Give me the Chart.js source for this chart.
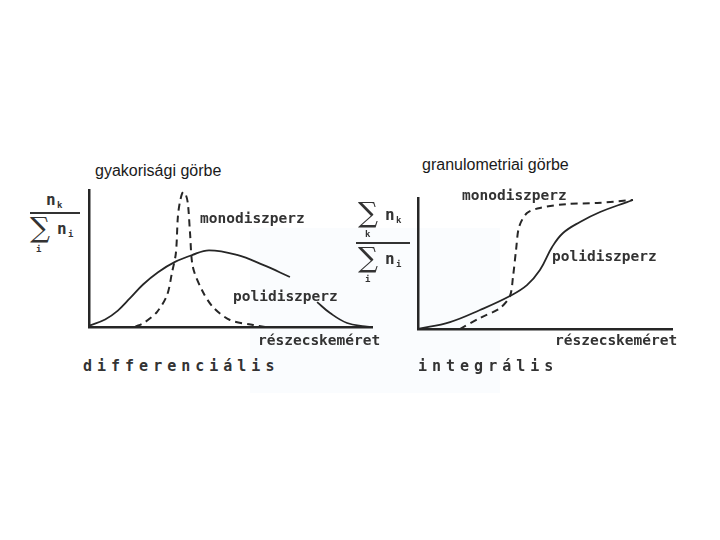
<!DOCTYPE html>
<html>
<head>
<meta charset="utf-8">
<script src="https://cdn.jsdelivr.net/npm/chart.js@4.4.1/dist/chart.umd.min.js"></script>
<style>
  body { margin: 0; background: #fff; }
  #page { position: relative; width: 720px; height: 540px; overflow: hidden; background: #fff; }
  canvas { position: absolute; }
  .t { position: absolute; white-space: nowrap; color: #2a2a2a; }
  .title { font-family: "Liberation Sans", Arial, sans-serif; font-size: 16px; color: #1a1a1a; }
  .lbl { font-family: "DejaVu Sans Mono", monospace; font-size: 14.5px; font-weight: bold; color: #333; }
  .big { font-family: "DejaVu Sans Mono", monospace; font-size: 15px; font-weight: bold; color: #333; letter-spacing: 5px; }
  .sig { font-family: "DejaVu Serif", serif; font-size: 28px; color: #333; line-height: 1; }
  .n { font-family: "DejaVu Sans Mono", monospace; font-size: 16px; font-weight: bold; color: #333; }
  .sub { font-family: "DejaVu Sans Mono", monospace; font-size: 9px; font-weight: bold; color: #333; }
  .bar { position: absolute; height: 1.5px; background: #333; }
  .haze { position: absolute; background: rgba(228, 236, 248, 0.18); }
</style>
</head>
<body>
<div id="page">
  <div class="haze" style="left:250px;top:228px;width:250px;height:165px;"></div>

  <canvas id="diffChart" width="295" height="149" style="left:83px;top:184px;"></canvas>
  <canvas id="intChart" width="266" height="143" style="left:412px;top:192px;"></canvas>

  <!-- titles -->
  <div class="t title" style="left:95px;top:162px;">gyakorisági görbe</div>
  <div class="t title" style="left:422px;top:156px;">granulometriai görbe</div>

  <!-- left y label: n_k / sum_i n_i -->
  <div class="t n" style="left:46px;top:190px;">n</div>
  <div class="t sub" style="left:57px;top:200px;">k</div>
  <div class="bar" style="left:30px;top:212px;width:50px;"></div>
  <div class="t sig" style="left:30px;top:214px;">∑</div>
  <div class="t n" style="left:57px;top:219px;">n</div>
  <div class="t sub" style="left:68px;top:229px;">i</div>
  <div class="t sub" style="left:36px;top:244px;">i</div>

  <!-- right y label: sum_k n_k / sum_i n_i -->
  <div class="t sig" style="left:358px;top:199px;">∑</div>
  <div class="t n" style="left:385px;top:205px;">n</div>
  <div class="t sub" style="left:396px;top:215px;">k</div>
  <div class="t sub" style="left:365px;top:229px;">k</div>
  <div class="bar" style="left:356px;top:242px;width:54px;"></div>
  <div class="t sig" style="left:358px;top:244px;">∑</div>
  <div class="t n" style="left:385px;top:249px;">n</div>
  <div class="t sub" style="left:396px;top:259px;">i</div>
  <div class="t sub" style="left:365px;top:274px;">i</div>

  <!-- curve labels -->
  <div class="t lbl" style="left:200px;top:210px;">monodiszperz</div>
  <div class="t lbl" style="left:233px;top:288px;">polidiszperz</div>
  <div class="t lbl" style="left:258px;top:332px;">részecskeméret</div>
  <div class="t big" style="left:83px;top:357px;">differenciális</div>

  <div class="t lbl" style="left:462px;top:187px;">monodiszperz</div>
  <div class="t lbl" style="left:552px;top:248px;">polidiszperz</div>
  <div class="t lbl" style="left:555px;top:332px;">részecskeméret</div>
  <div class="t big" style="left:418px;top:357px;">integrális</div>
</div>

<script>
// differential (frequency) curves, x = particle size, y = n_k / sum n_i (relative units)
const polyDiffX = [0, 5.7, 10.2, 14.5, 19.1, 24.4, 30.4, 36.4, 42.4, 52.3, 61.5, 71.0, 75, 80.6, 85.2, 91.2, 97.5, 100];
const polyDiffY = [1, 5.5, 12.0, 21.0, 31.0, 40.0, 47.5, 52.5, 56.0, 52.6, 45.3, 36.5, null, 18.2, 10.2, 2.9, 0.5, 0];

const monoDiffX = [16.3, 19.8, 24.0, 27.6, 29.3, 30.7, 31.4, 32.1, 33.2, 34.3, 35.0, 35.7, 36.7, 39.9, 43.8, 49.8, 58.0, 62.2];
const monoDiffY = [0, 3.6, 10.9, 23.4, 39.4, 54.0, 80.3, 91.0, 98.5, 96.0, 89.0, 68.6, 43.8, 27.0, 14.6, 5.1, 1.5, 0];

// integral (granulometric) curves, y = cumulative share
const polyIntX = [0, 12.6, 24.4, 36.2, 42.9, 48.0, 52.8, 57.1, 63.8, 71.7, 82.3, 84.6];
const polyIntY = [0, 5.3, 14.5, 25.2, 33.5, 45.0, 62.6, 73.3, 81.7, 89.3, 96.9, 98.5];

const monoIntX = [16.5, 24.4, 32.3, 36.2, 37.4, 38.6, 39.8, 42.9, 48.0, 58.7, 70.5, 84.6];
const monoIntY = [0, 8.4, 16.0, 25.2, 39.7, 60.3, 77.9, 88.5, 92.4, 95.4, 96.2, 98.5];

const ink = '#262626';

function pts(xs, ys) {
    return xs.map((x, i) => ({ x: x, y: ys[i] }));
}

function makeChart(id, solidX, solidY, dashX, dashY) {
    return new Chart(document.getElementById(id), {
        type: 'line',
        data: {
            datasets: [
                {
                    label: 'polidiszperz',
                    data: pts(solidX, solidY),
                    borderColor: ink,
                    borderWidth: 1.8,
                    pointRadius: 0,
                    tension: 0.4,
                    spanGaps: false,
                    clip: false
                },
                {
                    label: 'monodiszperz',
                    data: pts(dashX, dashY),
                    borderColor: ink,
                    borderWidth: 2,
                    borderDash: [7, 5],
                    pointRadius: 0,
                    tension: 0.3,
                    clip: false
                }
            ]
        },
        options: {
            responsive: false,
            animation: false,
            layout: { padding: 6 },
            plugins: { legend: { display: false }, tooltip: { enabled: false } },
            scales: {
                x: {
                    type: 'linear', min: 0, max: 100,
                    grid: { display: false, drawTicks: false },
                    ticks: { display: false },
                    border: { display: true, color: ink, width: 2.5 },
                    afterFit: s => { s.height = 0; }
                },
                y: {
                    min: 0, max: 100,
                    grid: { display: false, drawTicks: false },
                    ticks: { display: false },
                    border: { display: true, color: ink, width: 2.5 },
                    afterFit: s => { s.width = 0; }
                }
            }
        }
    });
}

makeChart('diffChart', polyDiffX, polyDiffY, monoDiffX, monoDiffY);
makeChart('intChart', polyIntX, polyIntY, monoIntX, monoIntY);
</script>
</body>
</html>
